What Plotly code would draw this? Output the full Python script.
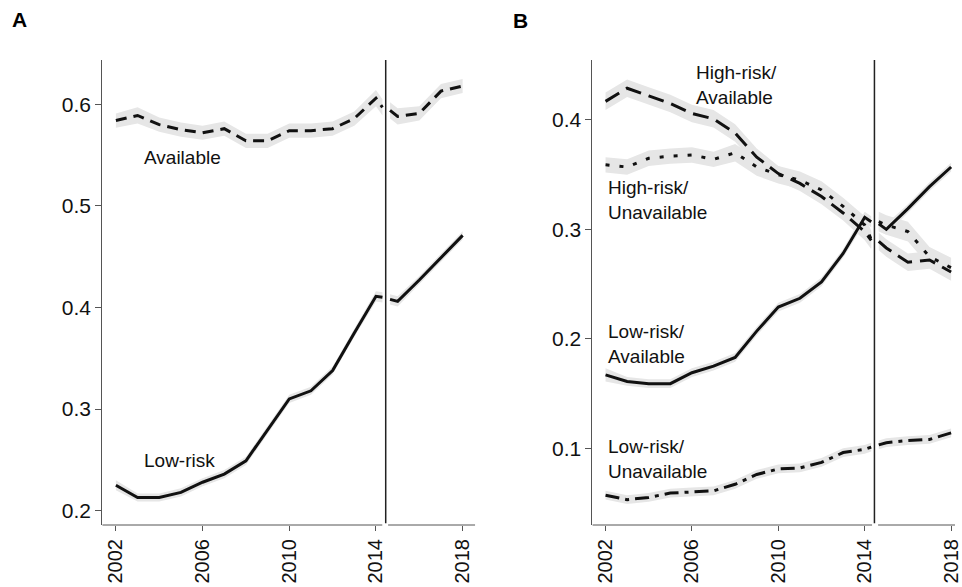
import plotly.graph_objects as go

# ---- data -------------------------------------------------------------
# Periods before and after the mid-2014 policy change
years_pre = [2002, 2003, 2004, 2005, 2006, 2007, 2008, 2009, 2010, 2011, 2012, 2013, 2014, 2014.3]
years_post = [2014.65, 2015, 2016, 2017, 2018]

# Panel A
a_available_pre = [0.584, 0.589, 0.580, 0.575, 0.572, 0.576, 0.564, 0.564, 0.574, 0.574, 0.576, 0.586, 0.606, 0.597]
a_available_post = [0.594, 0.588, 0.591, 0.613, 0.618]
a_available_ci_pre = [0.007, 0.008, 0.007, 0.007, 0.007, 0.007, 0.007, 0.007, 0.007, 0.007, 0.007, 0.007, 0.008, 0.008]
a_available_ci_post = [0.008, 0.008, 0.007, 0.007, 0.007]

a_lowrisk_pre = [0.225, 0.213, 0.213, 0.218, 0.228, 0.236, 0.249, 0.279, 0.310, 0.318, 0.338, 0.375, 0.411, 0.410]
a_lowrisk_post = [0.408, 0.406, 0.427, 0.449, 0.471]
a_lowrisk_ci_pre = [0.005, 0.004, 0.004, 0.004, 0.004, 0.004, 0.004, 0.004, 0.004, 0.004, 0.004, 0.004, 0.005, 0.005]
a_lowrisk_ci_post = [0.005, 0.005, 0.004, 0.004, 0.004]

# Panel B
b_hr_av_pre = [0.417, 0.429, 0.422, 0.415, 0.406, 0.401, 0.388, 0.366, 0.351, 0.342, 0.330, 0.315, 0.298, 0.290]
b_hr_av_post = [0.289, 0.283, 0.270, 0.272, 0.261]
b_hr_av_ci_pre = [0.008, 0.008, 0.008, 0.008, 0.008, 0.008, 0.008, 0.008, 0.007, 0.007, 0.007, 0.007, 0.008, 0.008]
b_hr_av_ci_post = [0.008, 0.008, 0.008, 0.008, 0.008]

b_hr_un_pre = [0.359, 0.357, 0.365, 0.367, 0.368, 0.364, 0.370, 0.357, 0.350, 0.345, 0.336, 0.321, 0.304, 0.291]
b_hr_un_post = [0.307, 0.304, 0.298, 0.275, 0.265]
b_hr_un_ci_pre = [0.007, 0.007, 0.007, 0.007, 0.007, 0.007, 0.008, 0.008, 0.008, 0.008, 0.008, 0.008, 0.008, 0.008]
b_hr_un_ci_post = [0.009, 0.009, 0.009, 0.009, 0.009]

b_lr_av_pre = [0.167, 0.161, 0.159, 0.159, 0.169, 0.175, 0.183, 0.207, 0.229, 0.237, 0.252, 0.278, 0.311, 0.307]
b_lr_av_post = [0.305, 0.300, 0.319, 0.339, 0.357]
b_lr_av_ci_pre = [0.006, 0.004, 0.004, 0.004, 0.004, 0.004, 0.004, 0.004, 0.004, 0.004, 0.004, 0.004, 0.005, 0.005]
b_lr_av_ci_post = [0.006, 0.005, 0.004, 0.004, 0.004]

b_lr_un_pre = [0.057, 0.053, 0.055, 0.059, 0.060, 0.061, 0.067, 0.076, 0.081, 0.082, 0.087, 0.096, 0.099, 0.101]
b_lr_un_post = [0.103, 0.105, 0.107, 0.108, 0.114]
b_lr_un_ci_pre = [0.004, 0.004, 0.004, 0.004, 0.004, 0.004, 0.004, 0.004, 0.004, 0.004, 0.004, 0.004, 0.004, 0.004]
b_lr_un_ci_post = [0.004, 0.004, 0.004, 0.004, 0.004]

x_ticks = [2002, 2006, 2010, 2014, 2018]
a_y_ticks = [0.2, 0.3, 0.4, 0.5, 0.6]
b_y_ticks = [0.1, 0.2, 0.3, 0.4]
policy_year = 2014.45

# ---- styling ----------------------------------------------------------
FONT = "Liberation Sans, Arial, Helvetica, sans-serif"
BAND = "rgb(230,230,230)"
INK = "#111111"
AXIS = "#555555"

DASH_A = "11px,7px"
DASH_LONG = "16px,8px"
DOT = "4px,10px"
DASHDOT = "14px,6px,4px,6px"

fig = go.Figure()

series = [
    (a_available_pre, a_available_ci_pre, a_available_post, a_available_ci_post, DASH_A, "x", "y"),
    (a_lowrisk_pre, a_lowrisk_ci_pre, a_lowrisk_post, a_lowrisk_ci_post, "solid", "x", "y"),
    (b_hr_av_pre, b_hr_av_ci_pre, b_hr_av_post, b_hr_av_ci_post, DASH_LONG, "x2", "y2"),
    (b_hr_un_pre, b_hr_un_ci_pre, b_hr_un_post, b_hr_un_ci_post, DOT, "x2", "y2"),
    (b_lr_av_pre, b_lr_av_ci_pre, b_lr_av_post, b_lr_av_ci_post, "solid", "x2", "y2"),
    (b_lr_un_pre, b_lr_un_ci_pre, b_lr_un_post, b_lr_un_ci_post, DASHDOT, "x2", "y2"),
]

# confidence bands first so every line sits on top of every band
for pre, cpre, post, cpost, dash, xa, ya in series:
    for xs, ys, ci in ((years_pre, pre, cpre), (years_post, post, cpost)):
        lo = [y - c for y, c in zip(ys, ci)]
        hi = [y + c for y, c in zip(ys, ci)]
        fig.add_trace(go.Scatter(
            x=list(xs) + list(xs)[::-1], y=hi + lo[::-1],
            fill="toself", fillcolor=BAND, line=dict(width=0),
            mode="lines", hoverinfo="skip", showlegend=False,
            xaxis=xa, yaxis=ya))
for pre, cpre, post, cpost, dash, xa, ya in series:
    for xs, ys in ((years_pre, pre), (years_post, post)):
        fig.add_trace(go.Scatter(
            x=xs, y=ys, mode="lines",
            line=dict(color=INK, width=3, dash=dash),
            showlegend=False, xaxis=xa, yaxis=ya))

W, H = 962, 587
y_dom = [1 - 525 / H, 1 - 60 / H]
a_dom = [103 / W, 478.7 / W]
b_dom = [596.7 / W, 1.0]

tickfont = dict(family=FONT, size=21, color=INK)
xtickfont = dict(family=FONT, size=20, color=INK)

common_x = dict(tickmode="array", tickvals=x_ticks, ticktext=[str(t) for t in x_ticks],
                tickangle=-90, ticks="outside", ticklen=5, tickcolor=AXIS, tickwidth=1,
                showline=False, showgrid=False, zeroline=False, tickfont=xtickfont,
                ticklabeloverflow="allow")
common_y = dict(tickmode="array", ticks="outside", ticklen=6, tickcolor=AXIS, tickwidth=1,
                showline=True, linecolor=AXIS, linewidth=1, showgrid=False, zeroline=False,
                tickfont=tickfont)

fig.update_layout(
    width=W, height=H,
    margin=dict(l=0, r=0, t=0, b=0),
    paper_bgcolor="white", plot_bgcolor="white",
    showlegend=False,
    font=dict(family=FONT, color=INK),
    xaxis=dict(domain=a_dom, range=[2001.37, 2018.58], anchor="y", **common_x),
    yaxis=dict(domain=y_dom, range=[0.1859, 0.6436], anchor="x",
               tickvals=a_y_ticks, ticktext=[f"{v:.1f}" for v in a_y_ticks], **common_y),
    xaxis2=dict(domain=b_dom, range=[2001.39, 2018.18], anchor="y2", **common_x),
    yaxis2=dict(domain=y_dom, range=[0.0298, 0.4548], anchor="x2",
                tickvals=b_y_ticks, ticktext=[f"{v:.1f}" for v in b_y_ticks], **common_y),
)

# x axis baselines broken at the policy date, plus the policy marker line
shapes = []
for xr, x0, gap0, gap1, x1 in (("x", 2001.37, 2014.29, 2014.56, 2018.58),
                                ("x2", 2001.39, 2014.34, 2014.62, 2018.18)):
    for s0, s1 in ((x0, gap0), (gap1, x1)):
        shapes.append(dict(type="line", xref=xr, yref="paper", x0=s0, x1=s1,
                           y0=y_dom[0], y1=y_dom[0], line=dict(color=AXIS, width=1)))
    shapes.append(dict(type="line", xref=xr, yref="paper", x0=policy_year, x1=policy_year,
                       y0=y_dom[0] + 0.003, y1=y_dom[1], line=dict(color="#222222", width=1.5)))
fig.update_layout(shapes=shapes)

labfont = dict(family=FONT, size=19, color=INK)
annotations = [
    dict(text="Available", x=2003.22, y=0.5476, xref="x", yref="y"),
    dict(text="Low-risk", x=2003.22, y=0.2494, xref="x", yref="y"),
    dict(text="High-risk/<br>Available", x=2006.09, y=0.432, xref="x2", yref="y2"),
    dict(text="High-risk/<br>Unavailable", x=2002.0, y=0.3264, xref="x2", yref="y2"),
    dict(text="Low-risk/<br>Available", x=2002.0, y=0.1948, xref="x2", yref="y2"),
    dict(text="Low-risk/<br>Unavailable", x=2002.0, y=0.0897, xref="x2", yref="y2"),
]
for a in annotations:
    a.update(showarrow=False, xanchor="left", yanchor="middle", align="left", font=labfont)
annotations += [
    dict(text="<b>A</b>", x=10 / W, y=1 - 19.5 / H, xref="paper", yref="paper",
         xanchor="left", yanchor="middle", showarrow=False,
         font=dict(family=FONT, size=21, color="#000000")),
    dict(text="<b>B</b>", x=515 / W, y=1 - 20 / H, xref="paper", yref="paper",
         xanchor="left", yanchor="middle", showarrow=False,
         font=dict(family=FONT, size=21, color="#000000")),
]
fig.update_layout(annotations=annotations)

fig.write_html("out.html")
